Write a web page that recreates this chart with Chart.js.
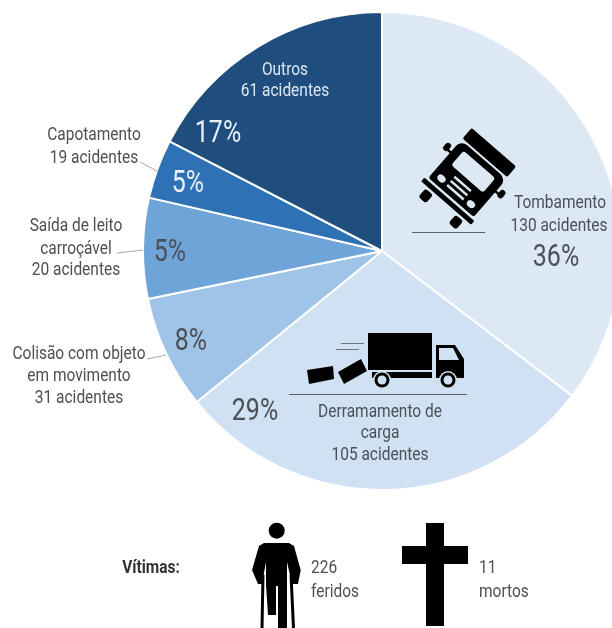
<!DOCTYPE html>
<html>
<head>
<meta charset="utf-8">
<script src="https://cdn.jsdelivr.net/npm/chart.js@4/dist/chart.umd.min.js"></script>
<style>
  html, body { margin: 0; padding: 0; background: #fff; overflow: hidden; width: 612px; height: 628px; }
  #wrap { width: 764px; height: 628px; position: relative; }
  canvas { display: block; }
</style>
</head>
<body>
<div id="wrap"><canvas id="pie" width="764" height="628"></canvas></div>
<script>
const categories = ['Tombamento', 'Derramamento de carga', 'Colisão com objeto em movimento', 'Saída de leito carroçável', 'Capotamento', 'Outros'];
const acidentes = [130, 105, 31, 20, 19, 61];
// tamanho das fatias como desenhadas no original, em graus (nao batem exato com as contagens)
const fatiasGraus = [127.3, 103.5, 27.6, 24.5, 14.4, 62.7];
const percentuais = ['36%', '29%', '8%', '5%', '5%', '17%'];
const cores = ['#dde8f5', '#cfe1f3', '#a0c4e7', '#6ea4d7', '#2e72b5', '#1f4e7e'];
const feridos = 226;
const mortos = 11;

const FONT = 'Roboto, "Liberation Sans", sans-serif';
const TXT = '#4b5057';

function texto(ctx, s, x, y, size, color, align, weight) {
  ctx.save();
  ctx.font = (weight || 'normal') + ' ' + size + 'px ' + FONT;
  ctx.fillStyle = color || TXT;
  ctx.textAlign = align || 'center';
  ctx.textBaseline = 'middle';
  ctx.translate(x, y + 1.5);
  ctx.scale(size > 20 ? 0.78 : 0.86, 1); // a fonte do original e condensada
  ctx.fillText(s, 0, 0);
  ctx.restore();
}

function linha(ctx, x1, y1, x2, y2, color, w) {
  ctx.strokeStyle = color;
  ctx.lineWidth = w;
  ctx.beginPath();
  ctx.moveTo(x1, y1);
  ctx.lineTo(x2, y2);
  ctx.stroke();
}

function caixa(ctx, x, y, w, h, r, color) {
  ctx.fillStyle = color;
  ctx.beginPath();
  ctx.roundRect(x, y, w, h, r);
  ctx.fill();
}

function poligono(ctx, pts) {
  ctx.beginPath();
  pts.forEach((p, i) => i ? ctx.lineTo(p[0], p[1]) : ctx.moveTo(p[0], p[1]));
  ctx.closePath();
  ctx.fill();
}

// caminhao tombando, visto de frente
function caminhaoTombado(ctx) {
  const fundo = cores[0];
  ctx.save();
  ctx.translate(473.3, 171.7);
  ctx.rotate(41 * Math.PI / 180);
  caixa(ctx, -30, -32, 59, 14, 2, '#000');
  caixa(ctx, -30, -16, 60, 50, [8, 8, 3, 3], '#000');
  caixa(ctx, -21, -9.5, 42, 19, 3, fundo);
  // retrovisores
  caixa(ctx, -36, -1, 7, 2.5, 1, '#000');
  caixa(ctx, -39, -6, 6, 9, 3, '#000');
  caixa(ctx, 29, -1, 7, 2.5, 1, '#000');
  caixa(ctx, 33, -6, 6, 9, 3, '#000');
  // farois e grade
  ctx.fillStyle = fundo;
  ctx.beginPath();
  ctx.ellipse(-19.5, 26, 4.5, 3.5, 0, 0, Math.PI * 2);
  ctx.ellipse(19.5, 26, 4.5, 3.5, 0, 0, Math.PI * 2);
  ctx.fill();
  for (let i = 0; i < 3; i++) caixa(ctx, -11, 15 + i * 5.5, 22, 2.5, 0, fundo);
  // para-choque e rodas
  caixa(ctx, -33, 36.5, 66, 5, 1, '#000');
  caixa(ctx, -25, 44, 10, 11, 3, '#000');
  caixa(ctx, 15, 44, 10, 11, 3, '#000');
  ctx.restore();
  linha(ctx, 412, 232.5, 485, 232.5, '#5c6066', 1);
}

// caminhao de entrega perdendo a carga
function caminhaoCarga(ctx) {
  const fundo = cores[1];
  caixa(ctx, 368, 333, 64, 37, 0, '#000');
  caixa(ctx, 372, 372, 60, 6, 0, '#000');
  ctx.fillStyle = '#000';
  poligono(ctx, [[436, 345], [455, 345], [464, 359], [464, 378], [436, 378]]);
  ctx.fillStyle = fundo;
  poligono(ctx, [[439, 348], [453, 348], [459, 360], [439, 360]]);
  [382, 448].forEach(x => {
    ctx.fillStyle = fundo;
    ctx.beginPath(); ctx.arc(x, 380, 9, 0, Math.PI * 2); ctx.fill();
    ctx.fillStyle = '#000';
    ctx.beginPath(); ctx.arc(x, 380, 7.5, 0, Math.PI * 2); ctx.fill();
    ctx.fillStyle = fundo;
    ctx.beginPath(); ctx.arc(x, 380, 4.5, 0, Math.PI * 2); ctx.fill();
  });
  ctx.fillStyle = '#000';
  poligono(ctx, [[307, 370], [333, 366], [334, 379], [309, 384]]);
  poligono(ctx, [[338, 372], [361, 359], [367, 371], [344, 384]]);
  linha(ctx, 341, 343.5, 364, 343.5, '#70757a', 1);
  linha(ctx, 336, 349.5, 359, 349.5, '#70757a', 1);
  linha(ctx, 289, 394.5, 467, 394.5, '#5c6066', 1);
}

function ferido(ctx) {
  ctx.fillStyle = '#000';
  ctx.beginPath(); ctx.arc(276.7, 530.7, 8, 0, Math.PI * 2); ctx.fill();
  poligono(ctx, [
    [264, 543], [289, 543], [294, 546], [300.7, 570], [298, 584], [292, 584],
    [287, 562], [287, 628], [278, 628], [278, 586], [276, 586], [276, 615],
    [268, 615], [266, 585], [266, 562], [262, 584], [258, 584], [252, 570],
    [259, 546]
  ]);
  linha(ctx, 263, 575, 262, 628, '#000', 3);
  linha(ctx, 291, 575, 293.5, 628, '#000', 3);
}

function cruz(ctx) {
  caixa(ctx, 426, 523, 18, 103, 0, '#000');
  caixa(ctx, 402, 546, 66, 18, 0, '#000');
}

const anotacoes = {
  id: 'anotacoes',
  afterDatasetsDraw(chart) {
    const ctx = chart.ctx;
    ctx.save();

    // rotulos de cada fatia
    texto(ctx, 'Tombamento', 560, 202, 18);
    texto(ctx, acidentes[0] + ' acidentes', 559, 225, 18);
    texto(ctx, percentuais[0], 556, 256, 32);

    texto(ctx, 'Derramamento de', 380, 411, 18);
    texto(ctx, 'carga', 380, 432, 18);
    texto(ctx, acidentes[1] + ' acidentes', 380, 454, 18);
    texto(ctx, percentuais[1], 255, 410, 32);

    texto(ctx, 'Colisão com objeto', 79, 353, 18);
    texto(ctx, 'em movimento', 79, 375, 18);
    texto(ctx, acidentes[2] + ' acidentes', 79, 397, 18);
    texto(ctx, percentuais[2], 191, 340, 32);

    texto(ctx, 'Saída de leito', 76, 225, 18);
    texto(ctx, 'carroçável', 76, 248, 18);
    texto(ctx, acidentes[3] + ' acidentes', 76, 269, 18);
    texto(ctx, percentuais[3], 170, 251, 32);

    texto(ctx, 'Capotamento', 94, 134, 18);
    texto(ctx, acidentes[4] + ' acidentes', 94, 157, 18);
    texto(ctx, percentuais[4], 188, 182, 32, '#e8f0f8');

    texto(ctx, 'Outros', 285, 69, 18, '#dfe8f2');
    texto(ctx, acidentes[5] + ' acidentes', 285, 90, 18, '#dfe8f2');
    texto(ctx, percentuais[5], 218, 132, 32, '#e8f0f8');

    // linhas de chamada
    linha(ctx, 140, 162, 157, 171, '#a8abae', 1);
    linha(ctx, 117, 253, 143, 250, '#a8abae', 1);
    linha(ctx, 147, 359, 166, 355, '#a8abae', 1);

    caminhaoTombado(ctx);
    caminhaoCarga(ctx);

    // vitimas
    texto(ctx, 'Vítimas:', 151, 567, 18, '#2f3338', 'center', 'bold');
    ferido(ctx);
    texto(ctx, String(feridos), 311, 567, 18, TXT, 'left');
    texto(ctx, 'feridos', 311, 591, 18, TXT, 'left');
    cruz(ctx);
    texto(ctx, String(mortos), 479, 567, 18, TXT, 'left');
    texto(ctx, 'mortos', 479, 591, 18, TXT, 'left');

    ctx.restore();
  }
};

new Chart(document.getElementById('pie'), {
  type: 'pie',
  data: {
    labels: categories,
    datasets: [{
      data: fatiasGraus,
      backgroundColor: cores,
      borderColor: '#fff',
      borderWidth: 2
    }]
  },
  options: {
    responsive: false,
    animation: false,
    devicePixelRatio: 1,
    layout: { padding: { top: 11, bottom: 137 } },
    plugins: {
      legend: { display: false },
      tooltip: { enabled: false }
    }
  },
  plugins: [anotacoes]
});
</script>
</body>
</html>
